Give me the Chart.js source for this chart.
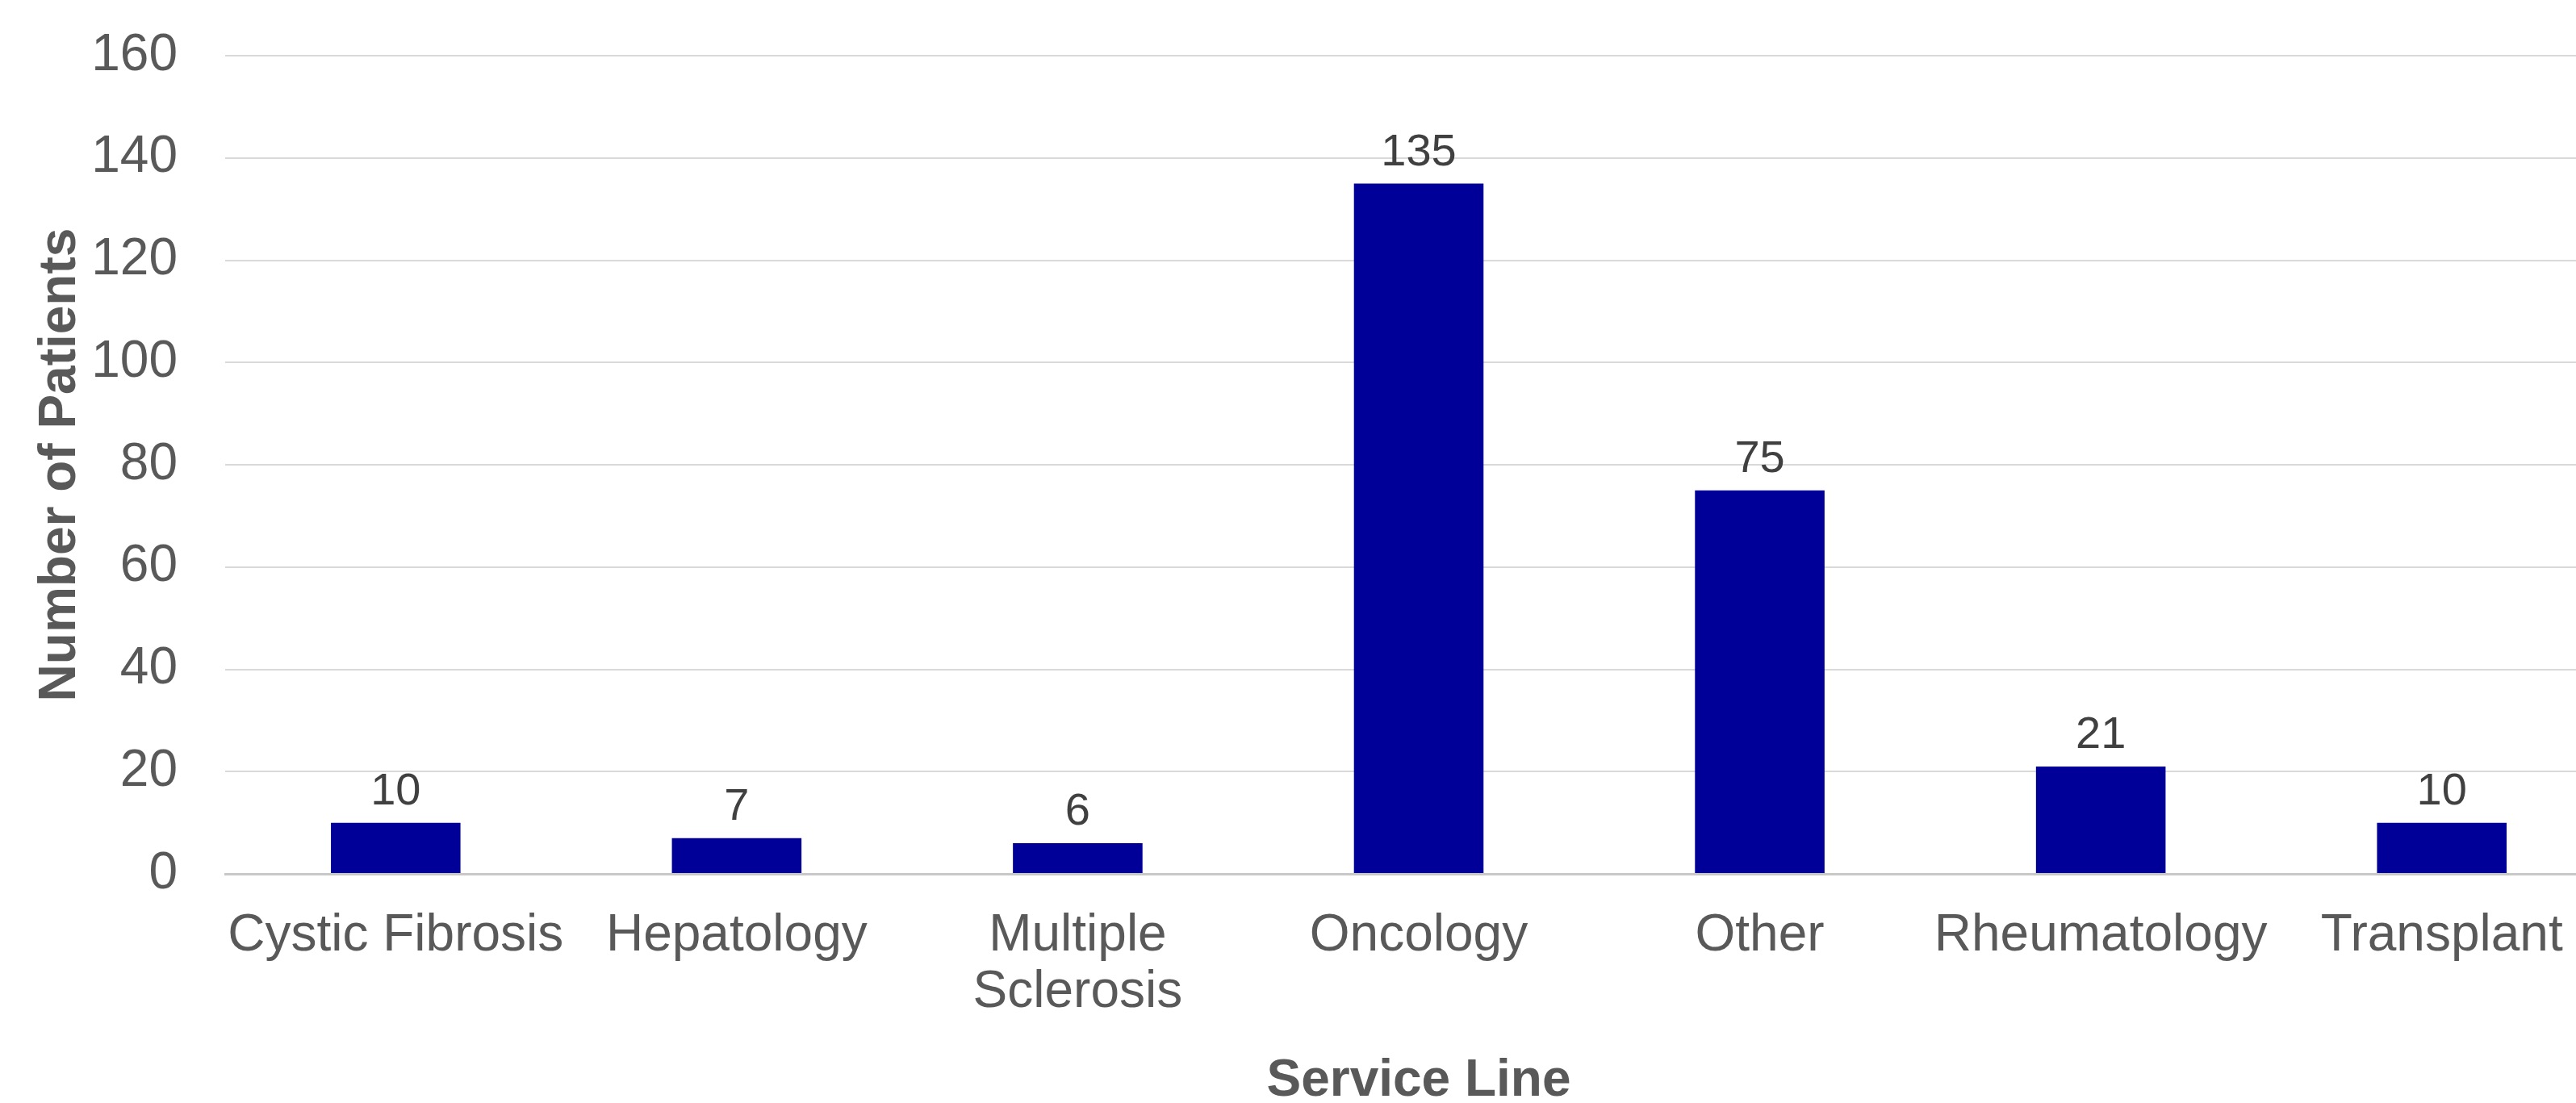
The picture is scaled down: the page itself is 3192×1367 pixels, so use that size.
<!DOCTYPE html>
<html>
<head>
<meta charset="utf-8">
<script src="https://cdn.jsdelivr.net/npm/chart.js@4"></script>
<style>
  html, body { margin: 0; padding: 0; background: #fff; overflow: hidden; }
  #wrap { width: 3240px; height: 1372px; }
</style>
</head>
<body>
<div id="wrap"><canvas id="barChart"></canvas></div>
<script>
// DATA
let serviceLines = ["Cystic Fibrosis", "Hepatology", ["Multiple", "Sclerosis"], "Oncology", "Other", "Rheumatology", "Transplant"];
let patients = [10, 7, 6, 135, 75, 21, 10];
let yTicks = [0, 20, 40, 60, 80, 100, 120, 140, 160];

const FONT = '"Liberation Sans", Arial, sans-serif';

// value labels above bars
const valueLabels = {
    id: "valueLabels",
    afterDatasetsDraw(chart) {
        let ctx = chart.ctx;
        let meta = chart.getDatasetMeta(0);
        ctx.save();
        ctx.font = "56px " + FONT;
        ctx.fillStyle = "#404040";
        ctx.textAlign = "center";
        ctx.textBaseline = "middle";
        meta.data.forEach((bar, i) => {
            ctx.fillText(patients[i], bar.x, bar.y - 38);
        });
        ctx.restore();
    }
};

// BAR CHART
let ctx1 = document.getElementById("barChart");

new Chart(ctx1, {
    type: "bar",
    data: {
        labels: serviceLines,
        datasets: [{
            label: "Number of Patients",
            data: patients,
            backgroundColor: "#000099",
            borderWidth: 0,
            categoryPercentage: 1,
            barPercentage: 0.38
        }]
    },
    options: {
        responsive: true,
        maintainAspectRatio: false,
        animation: false,
        layout: { padding: { top: 69, right: 3, left: 0, bottom: 0 } },
        plugins: {
            legend: { display: false },
            tooltip: { enabled: false }
        },
        scales: {
            x: {
                afterFit: (axis) => { axis.height = 289; },
                grid: { display: false, drawTicks: false },
                border: { color: "#c8c8c8", width: 3 },
                ticks: {
                    color: "#595959",
                    font: { family: FONT, size: 64, lineHeight: 1.1 },
                    padding: 42,
                    maxRotation: 0,
                    autoSkip: false
                },
                title: {
                    display: true,
                    text: "Service Line",
                    color: "#595959",
                    font: { family: FONT, size: 64, weight: "bold", lineHeight: 1 },
                    padding: 0
                }
            },
            y: {
                min: 0,
                max: 160,
                afterBuildTicks: (axis) => { axis.ticks = yTicks.map(v => ({ value: v })); },
                afterFit: (axis) => { axis.width = 279; },
                // invisible tick marks give the gap between labels and plot
                grid: { color: "#d9d9d9", lineWidth: 2, drawTicks: true, tickLength: 59, tickColor: "rgba(0,0,0,0)" },
                border: { display: false },
                ticks: {
                    color: "#595959",
                    font: { family: FONT, size: 64 },
                    padding: 0
                },
                title: {
                    display: true,
                    text: "Number of Patients",
                    color: "#595959",
                    font: { family: FONT, size: 64, weight: "bold", lineHeight: 1 },
                    padding: { top: 43, bottom: 0 }
                }
            }
        }
    },
    plugins: [valueLabels]
});
</script>
</body>
</html>
